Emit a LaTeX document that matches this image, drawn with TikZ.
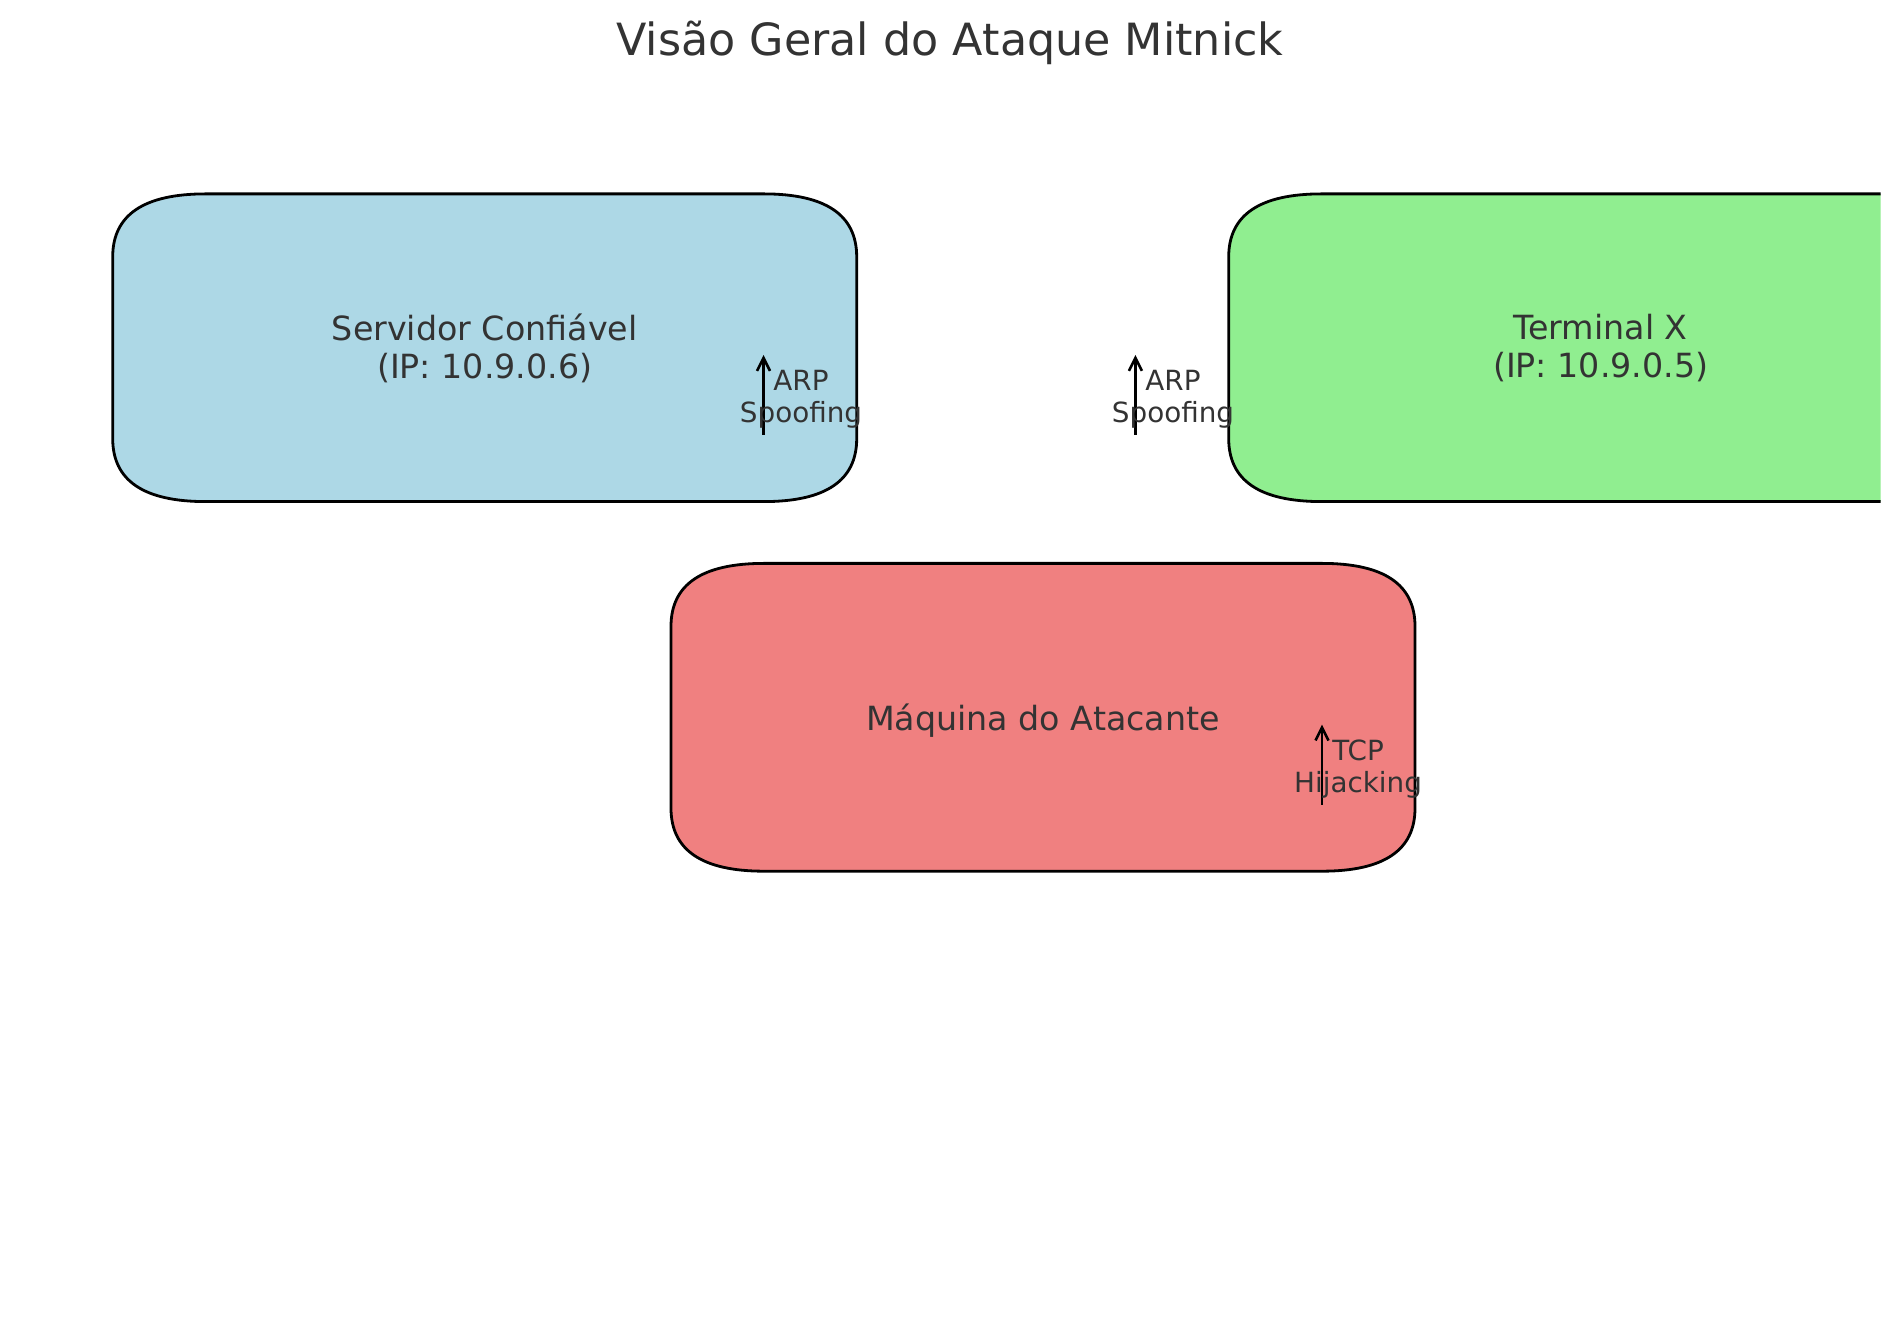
\documentclass[tikz,border=0pt]{standalone}
\usepackage{fontspec}
\setmainfont{DejaVu Sans}
\usetikzlibrary{arrows.meta}
\definecolor{txt}{HTML}{333333}
\definecolor{lblue}{HTML}{ADD8E6}
\definecolor{lgreen}{HTML}{90EE90}
\definecolor{lcoral}{HTML}{F08080}
% x1 y1 x2 y2 color ; quadratic-bezier corners (rx=93, ry=63)
\newcommand\myrbox[5]{%
  \draw[boxedge,fill=#5] (#1,#2+63) -- (#1,#4-63)
    .. controls (#1,#4-21) and (#1+31,#4) .. (#1+93,#4) -- (#3-93,#4)
    .. controls (#3-31,#4) and (#3,#4-21) .. (#3,#4-63) -- (#3,#2+63)
    .. controls (#3,#2+21) and (#3-31,#2) .. (#3-93,#2) -- (#1+93,#2)
    .. controls (#1+31,#2) and (#1,#2+21) .. (#1,#2+63) -- cycle;}
\begin{document}
\begin{tikzpicture}[x=1pt,y=1pt,
  boxedge/.style={draw=black,line width=2.8pt},
  lbl/.style={text=txt,align=center,inner sep=0pt,font=\fontsize{33.3}{38.3}\selectfont},
  small/.style={text=txt,align=center,inner sep=0pt,font=\fontsize{27.8}{32}\selectfont},
  ttl/.style={text=txt,inner sep=0pt,font=\fontsize{44.4}{50}\selectfont},
  arr/.style={-{Straight Barb[length=13pt,width=13pt,line width=2.6pt]}, line width=2.8pt}]
\useasboundingbox (0,0) rectangle (1900,1323);
\fill[white] (0,0) rectangle (1900,1323);
\begin{scope}
\clip (0,0) rectangle (1880.5,1323);
\myrbox{112.7}{821.4}{856.7}{1129.1}{lblue}
\myrbox{1228.7}{821.4}{1972.7}{1129.1}{lgreen}
\myrbox{671}{451.8}{1415}{759.6}{lcoral}
\end{scope}
\node[lbl] (srv) at (484.7,974.8) {Servidor Confiável\\(IP: 10.9.0.6)};
\node[lbl] (term) at (1600.7,974.8) {Terminal X\\(IP: 10.9.0.5)};
\node[lbl] (atk) at (1043,602.8) {Máquina do Atacante};
\coordinate (a1s) at (763.5,888); \coordinate (a1e) at (763.5,968);
\coordinate (a2s) at (1135.4,888); \coordinate (a2e) at (1135.4,968);
\coordinate (a3s) at (1322,518.4); \coordinate (a3e) at (1322,598.4);
\draw[arr] (a1s) -- (a1e);
\draw[arr] (a2s) -- (a2e);
\draw[arr] (a3s) -- (a3e);
\node[small] (l1) at (801,923.6) {ARP\\Spoofing};
\node[small] (l2) at (1173,923.6) {ARP\\Spoofing};
\node[small] (l3) at (1358,553.6) {TCP\\Hijacking};
\node[ttl] (title) at (950,1279.8) {Visão Geral do Ataque Mitnick};
\end{tikzpicture}
\end{document}
